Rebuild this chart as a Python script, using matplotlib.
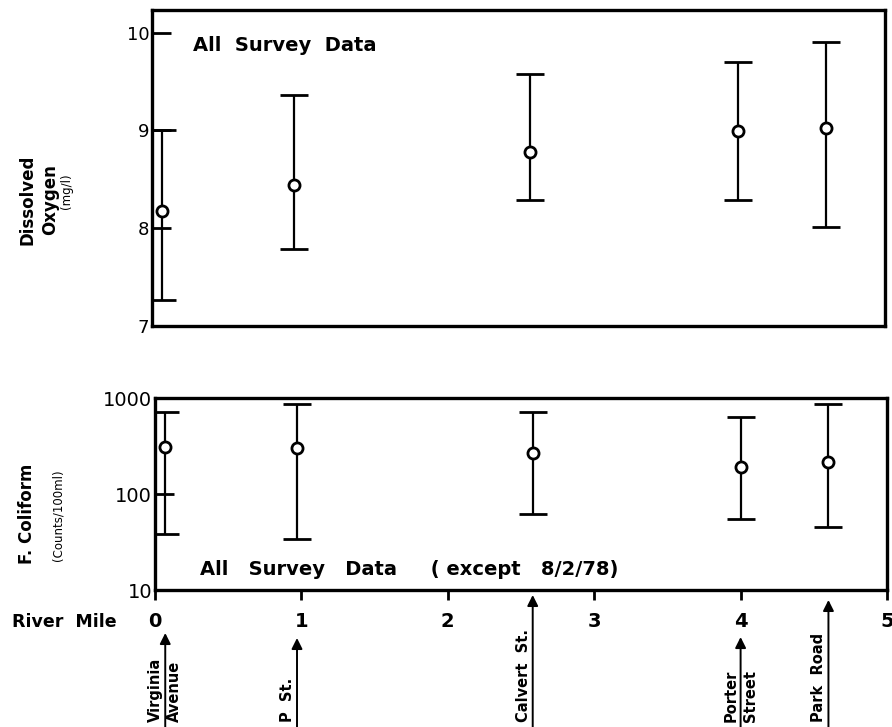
import matplotlib

matplotlib.use("Agg")
import matplotlib.pyplot as plt

# Station locations along the river (river mile)
stations_left = ["Virginia", "P  St.", "Calvert  St.", "Porter", "Park  Road"]
stations_right = ["Avenue", "", "", "Street", ""]
river_mile = [0.07, 0.97, 2.58, 4.0, 4.6]

# Dissolved oxygen (mg/l): mean, low, high
do_mean = [8.18, 8.44, 8.78, 8.99, 9.02]
do_low = [7.27, 7.79, 8.29, 8.29, 8.01]
do_high = [9.0, 9.36, 9.58, 9.70, 9.90]

# Fecal coliform (counts/100 ml): mean, low, high
fc_mean = [309, 302, 267, 191, 215]
fc_low = [38, 34, 62, 55, 45]
fc_high = [714, 866, 714, 634, 866]

do_ticks = [7, 8, 9, 10]
fc_ticks = [10, 100, 1000]
mile_ticks = [0, 1, 2, 3, 4, 5]

W, H = 892, 727


def fx(px):
    return px / W


def fy(py):
    return 1 - py / H


fig = plt.figure(figsize=(W / 100, H / 100), dpi=100)
ax1 = fig.add_axes([fx(152), fy(326), (885 - 152) / W, (326 - 10) / H])
ax2 = fig.add_axes([fx(155), fy(590), (887 - 155) / W, (590 - 398) / H])

eb_style = dict(fmt="o", mfc="white", mec="black", mew=2, ms=8,
                ecolor="black", elinewidth=1.6, capsize=10, capthick=2.4,
                zorder=3)

ax1.errorbar(river_mile, do_mean,
             yerr=[[m - lo for m, lo in zip(do_mean, do_low)],
                   [hi - m for m, hi in zip(do_mean, do_high)]],
             **eb_style)
ax1.set_xlim(0, 5)
ax1.set_ylim(7.0, 10.23)
ax1.set_yticks(do_ticks)
ax1.set_yticklabels([str(t) for t in do_ticks], fontsize=13)
ax1.set_xticks([])
ax1.tick_params(axis="y", direction="in", length=14, width=2, pad=2)
ax1.text(0.28, 9.87, "All  Survey  Data", fontsize=14, fontweight="bold",
         ha="left", va="center")

ax2.errorbar(river_mile, fc_mean,
             yerr=[[m - lo for m, lo in zip(fc_mean, fc_low)],
                   [hi - m for m, hi in zip(fc_mean, fc_high)]],
             **eb_style)
ax2.set_yscale("log")
ax2.set_xlim(0, 5)
ax2.set_ylim(10, 1000)
ax2.set_yticks(fc_ticks)
ax2.set_yticklabels([str(t) for t in fc_ticks], fontsize=14)
ax2.minorticks_off()
ax2.tick_params(axis="y", direction="in", length=14, width=2, pad=2)
ax2.set_xticks(mile_ticks)
ax2.set_xticklabels([str(t) for t in mile_ticks], fontsize=14,
                    fontweight="bold")
ax2.tick_params(axis="x", direction="out", length=7, width=2, pad=9)
ax2.text(0.31, 16.5, "All   Survey   Data     ( except   8/2/78)",
         fontsize=14, fontweight="bold", ha="left", va="center")

for ax in (ax1, ax2):
    for sp in ax.spines.values():
        sp.set_linewidth(2.4)

# station arrows and labels under the mile axis
tip_frac = [-0.224, -0.25, -0.026, -0.245, -0.052]
trans = ax2.get_xaxis_transform()
for mile, tip, left, right in zip(river_mile, tip_frac, stations_left,
                                  stations_right):
    ax2.annotate("", xy=(mile, tip), xytext=(mile, -0.72), xycoords=trans,
                 arrowprops=dict(arrowstyle="-|>", color="black", lw=1.4,
                                 mutation_scale=16, shrinkA=0, shrinkB=0),
                 annotation_clip=False)
    ax2.annotate(left, xy=(mile, -0.685), xycoords=trans, xytext=(-1.5, 0),
                 textcoords="offset points", rotation=90, ha="right",
                 va="bottom", fontsize=10.5, fontweight="bold",
                 annotation_clip=False)
    if right:
        ax2.annotate(right, xy=(mile, -0.685), xycoords=trans,
                     xytext=(1.5, 0), textcoords="offset points",
                     rotation=90, ha="left", va="bottom", fontsize=10.5,
                     fontweight="bold", annotation_clip=False)

# axis captions
fig.text(fx(27), fy(200), "Dissolved", rotation=90, ha="center", va="center",
         fontsize=12, fontweight="bold")
fig.text(fx(50), fy(200), "Oxygen", rotation=90, ha="center", va="center",
         fontsize=12, fontweight="bold")
fig.text(fx(67), fy(191), "(mg/l)", rotation=90, ha="center", va="center",
         fontsize=8.5)
fig.text(fx(27), fy(514), "F. Coliform", rotation=90, ha="center",
         va="center", fontsize=12, fontweight="bold")
fig.text(fx(58), fy(515), "(Counts/100ml)", rotation=90, ha="center",
         va="center", fontsize=8.5)
fig.text(fx(12), fy(622), "River  Mile", ha="left", va="center",
         fontsize=12.5, fontweight="bold")

fig.savefig("out.png", dpi=100)
plt.close(fig)
